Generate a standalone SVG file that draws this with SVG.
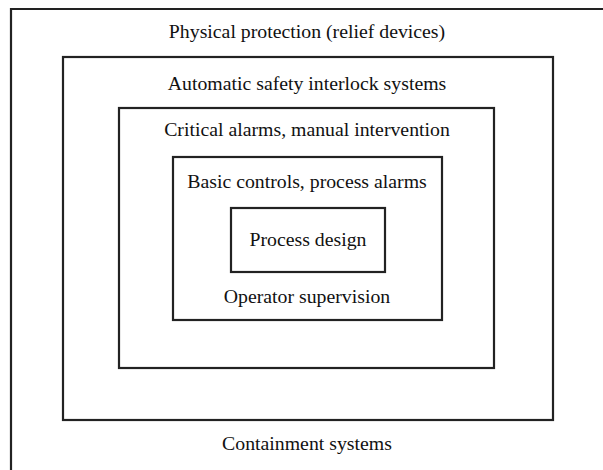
<svg xmlns="http://www.w3.org/2000/svg" width="603" height="470" viewBox="0 0 603 470">
<style>
.b{fill:none;stroke:#222;stroke-width:2.2}
.t{font-family:"Liberation Serif","Times New Roman",serif;font-size:19.8px;fill:#111;text-anchor:middle}
</style>
<rect width="603" height="470" fill="#fff"/>
<g id="outer">
<polyline class="b" points="11,470 11,9 603,9"/>
<text class="t" x="307" y="38">Physical protection (relief devices)</text>
<text class="t" x="307" y="450">Containment systems</text>
</g>
<g id="interlock">
<rect class="b" x="63" y="57" width="490" height="363"/>
<text class="t" x="307" y="90">Automatic safety interlock systems</text>
</g>
<g id="critical">
<rect class="b" x="119" y="108" width="375" height="260"/>
<text class="t" x="307" y="136">Critical alarms, manual intervention</text>
</g>
<g id="basic">
<rect class="b" x="173" y="157" width="269" height="163"/>
<text class="t" x="307" y="188">Basic controls, process alarms</text>
<text class="t" x="307" y="303">Operator supervision</text>
</g>
<g id="design">
<rect class="b" x="231" y="208" width="154" height="64"/>
<text class="t" x="308" y="246">Process design</text>
</g>
<g id="connectors"/>
</svg>
